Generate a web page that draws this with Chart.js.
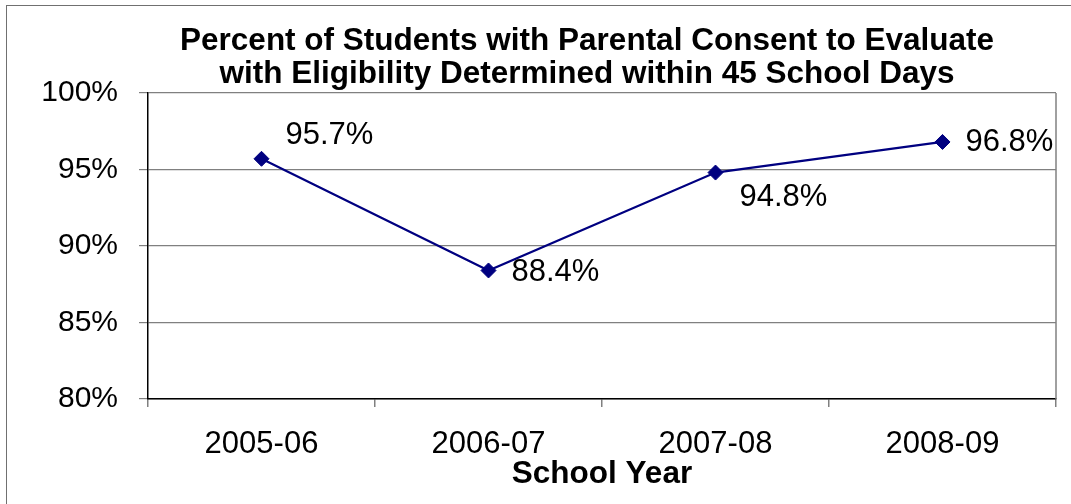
<!DOCTYPE html>
<html>
<head>
<meta charset="utf-8">
<script src="https://cdn.jsdelivr.net/npm/chart.js@4"></script>
<style>
html,body{margin:0;padding:0;background:#fff;}
#wrap{width:1071px;height:504px;position:relative;}
</style>
</head>
<body>
<div id="wrap"><canvas id="c"></canvas></div>
<script>
/* consent-to-evaluate timeliness, by school year */
const years=['2005-06','2006-07','2007-08','2008-09'];
const pctDone=[95.7,88.4,94.8,96.8];
const titleLines=['Percent of Students with Parental Consent to Evaluate','with Eligibility Determined within 45 School Days'];
const yMin=80, yMax=100, yStep=5;

const FONT="'Liberation Sans', Arial, sans-serif";
const NAVY='#000080';

// white page + thin frame around the whole chart
const framePlugin={
  id:'frame',
  beforeDraw(chart){
    const ctx=chart.ctx;
    ctx.save();
    ctx.fillStyle='#fff';
    ctx.fillRect(0,0,chart.width,chart.height);
    ctx.strokeStyle='#707070';
    ctx.lineWidth=1;
    ctx.strokeRect(6.5,5.5,chart.width+20,chart.height+20);
    ctx.restore();
  },
  afterDraw(chart){
    // gray right edge of the plot area
    const a=chart.chartArea, ctx=chart.ctx;
    ctx.save();
    ctx.strokeStyle='#808080';
    ctx.lineWidth=1.5;
    ctx.beginPath();
    ctx.moveTo(a.right,a.top);
    ctx.lineTo(a.right,a.bottom);
    ctx.stroke();
    ctx.restore();
  }
};

// two-line bold heading
const headPlugin={
  id:'head',
  afterDraw(chart){
    const ctx=chart.ctx;
    ctx.save();
    ctx.fillStyle='#000';
    ctx.font='bold 31.5px '+FONT;
    ctx.textAlign='center';
    ctx.textBaseline='alphabetic';
    ctx.fillText(titleLines[0],587,49.5);
    ctx.fillText(titleLines[1],587,83);
    ctx.restore();
  }
};

// value labels beside each marker
const labelOffsets=[[24,-23],[23,2],[24,25],[23,0]];
const valuePlugin={
  id:'values',
  afterDatasetsDraw(chart){
    const ctx=chart.ctx;
    const meta=chart.getDatasetMeta(0);
    ctx.save();
    ctx.fillStyle='#000';
    ctx.font='31px '+FONT;
    ctx.textAlign='left';
    ctx.textBaseline='middle';
    meta.data.forEach((pt,i)=>{
      const v=chart.data.datasets[0].data[i];
      const o=labelOffsets[i];
      ctx.fillText(v.toFixed(1)+'%',pt.x+o[0],pt.y+o[1]);
    });
    ctx.restore();
  }
};

new Chart(document.getElementById('c'),{
  type:'line',
  data:{
    labels:years,
    datasets:[{
      data:pctDone,
      borderColor:NAVY,borderWidth:2.2,
      pointStyle:'rectRot',pointRadius:7.5,
      pointBackgroundColor:NAVY,pointBorderColor:NAVY,pointBorderWidth:1,
      tension:0,fill:false
    }]
  },
  options:{
    responsive:true,maintainAspectRatio:false,animation:false,
    layout:{padding:{top:93,left:0,right:15,bottom:0}},
    plugins:{legend:{display:false},title:{display:false},tooltip:{enabled:false}},
    scales:{
      x:{
        offset:true,
        grid:{offset:true,drawOnChartArea:false,tickLength:8,color:'#808080',lineWidth:1.5},
        border:{color:'#000',width:1.5},
        ticks:{color:'#000',font:{family:FONT,size:31},padding:19,maxRotation:0},
        title:{display:true,text:'School Year',color:'#000',font:{family:FONT,size:31.5,weight:'bold'},padding:{top:0,bottom:11}},
        afterFit:s=>{s.height=105;}
      },
      y:{
        min:yMin,max:yMax,
        grid:{color:'#808080',lineWidth:1.2,tickLength:9},
        border:{color:'#000',width:1.5},
        ticks:{stepSize:yStep,color:'#000',font:{family:FONT,size:30},padding:21,callback:v=>v+'%'},
        afterFit:s=>{s.width=148;}
      }
    }
  },
  plugins:[framePlugin,headPlugin,valuePlugin]
});
</script>
</body>
</html>
